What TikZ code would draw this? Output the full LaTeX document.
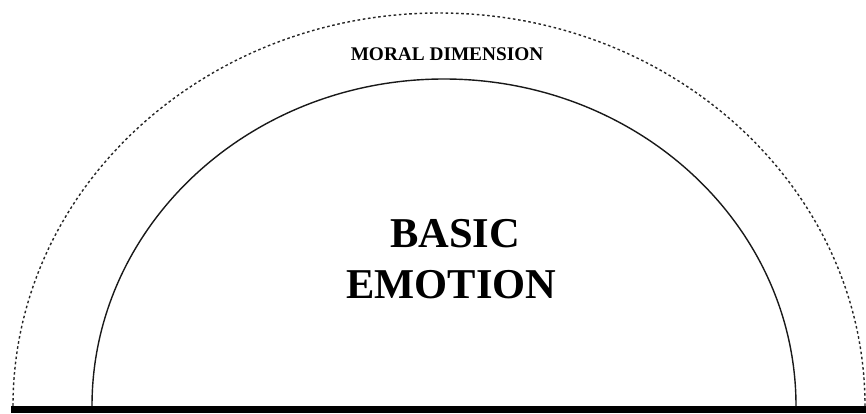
\documentclass[tikz,border=0pt]{standalone}
\usepackage{fontspec}
\setmainfont{Liberation Serif}
\begin{document}
\begin{tikzpicture}[x=1pt,y=1pt,
  outerarc/.style={line width=1.4pt, dash pattern=on 2.6pt off 2.6pt, black!85},
  innerarc/.style={line width=1.4pt, black!90},
  smalllabel/.style={font=\fontsize{19.3}{22}\selectfont\bfseries, inner sep=0pt, anchor=base},
  biglabel/.style={font=\fontsize{42.5}{50}\selectfont\bfseries, inner sep=0pt, anchor=base}]
\useasboundingbox (0,0) rectangle (866,413);
% base bar
\fill[black] (11,0) rectangle (866,7);
% outer dashed half-ellipse
\draw[outerarc] (865,7) arc[start angle=0, end angle=180, x radius=426, y radius=393];
% inner solid half-ellipse
\draw[innerarc] (796,7) arc[start angle=0, end angle=180, x radius=352, y radius=327];
% labels
\node[smalllabel] (moral) at (447,352) {MORAL DIMENSION};
\node[biglabel] (basic) at (455,166) {BASIC};
\node[biglabel] (emotion) at (451.5,115) {EMOTION};
\end{tikzpicture}
\end{document}
